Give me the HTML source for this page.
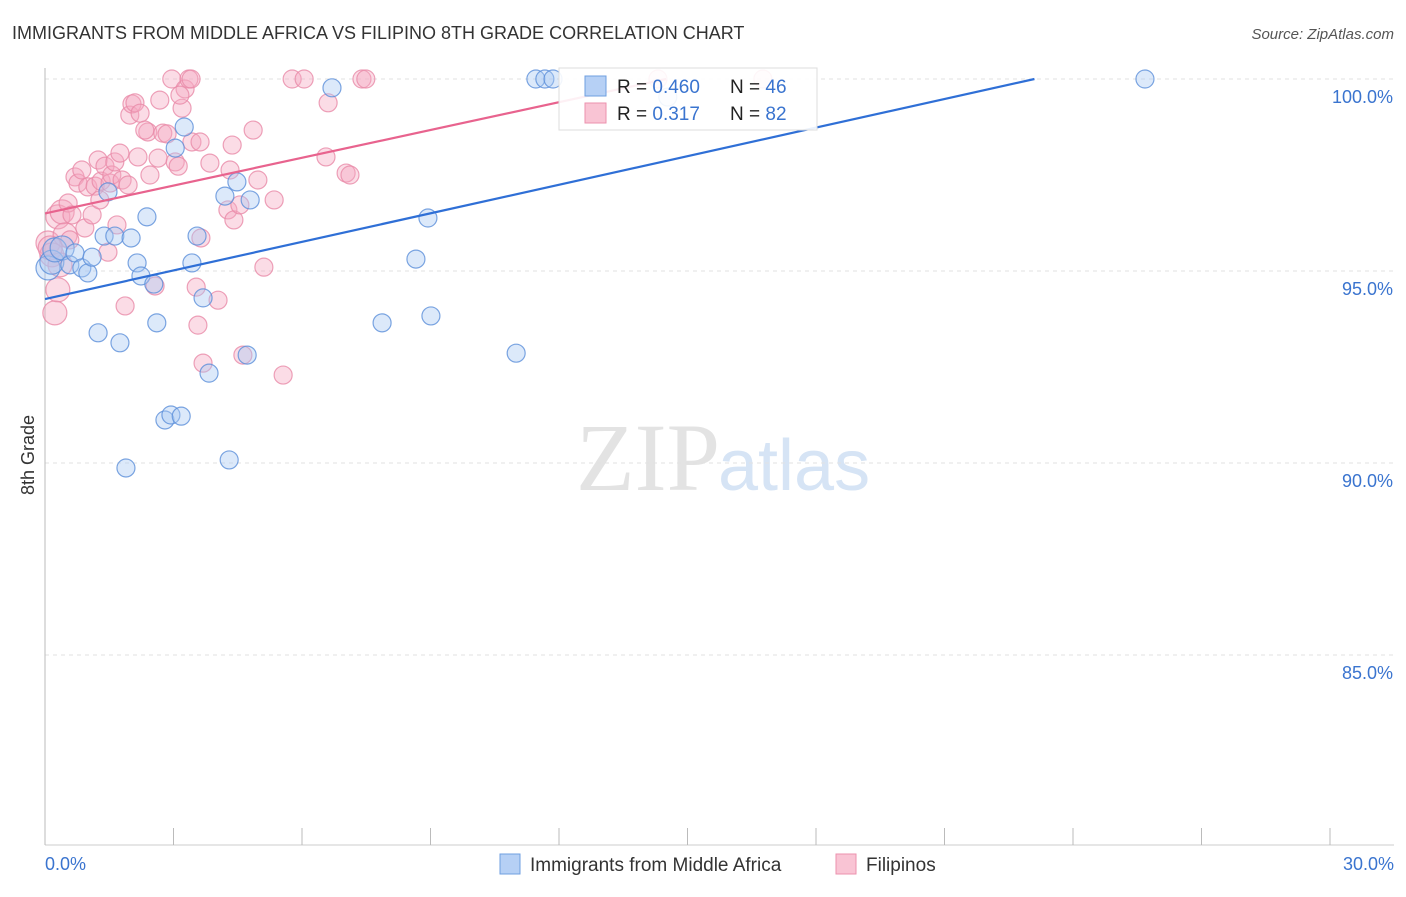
<!DOCTYPE html>
<html><head><meta charset="utf-8"><style>
body{margin:0;background:#fff;font-family:"Liberation Sans",sans-serif}
</style></head><body>
<svg width="1406" height="892" xmlns="http://www.w3.org/2000/svg" id="svg" font-family="Liberation Sans, sans-serif">
<text x="12" y="39" font-size="18" fill="#333">IMMIGRANTS FROM MIDDLE AFRICA VS FILIPINO 8TH GRADE CORRELATION CHART</text>
<text x="1394" y="39" font-size="15" fill="#555" font-style="italic" text-anchor="end">Source: ZipAtlas.com</text>
<text x="720" y="490" font-size="96" fill="#e3e3e3" font-family="Liberation Serif, serif" text-anchor="end">ZIP</text>
<text x="718" y="490" font-size="72" fill="#d6e4f5">atlas</text>
<text x="34" y="455" font-size="18" fill="#333" transform="rotate(-90 34 455)" text-anchor="middle">8th Grade</text>
<g id="grid"></g><g id="pts"></g><g id="lines"></g>
<g>
<rect x="559" y="68" width="258" height="62" fill="#fff" fill-opacity="0.9" stroke="#ddd"/>
<rect x="585" y="76" width="21" height="20" fill="#b6d0f5" stroke="#6f9fe0"/>
<rect x="585" y="103" width="21" height="20" fill="#f9c4d4" stroke="#ec92ae"/>
<text x="617" y="93" font-size="19" fill="#222">R = <tspan fill="#3a74cf">0.460</tspan></text>
<text x="730" y="93" font-size="19" fill="#222">N = <tspan fill="#3a74cf">46</tspan></text>
<text x="617" y="120" font-size="19" fill="#222">R = <tspan fill="#3a74cf"> 0.317</tspan></text>
<text x="730" y="120" font-size="19" fill="#222">N = <tspan fill="#3a74cf">82</tspan></text>
</g>
<g>
<rect x="500" y="854" width="20" height="20" fill="#b6d0f5" stroke="#6f9fe0"/>
<text x="530" y="871" font-size="19" fill="#333">Immigrants from Middle Africa</text>
<rect x="836" y="854" width="20" height="20" fill="#f9c4d4" stroke="#ec92ae"/>
<text x="866" y="871" font-size="19" fill="#333">Filipinos</text>
</g>
<text x="45" y="870" font-size="18" fill="#3a74cf">0.0%</text>
<text x="1394" y="870" font-size="18" fill="#3a74cf" text-anchor="end">30.0%</text>
</svg>
<script>
const yTicks=[100,95,90,85];
const xTicks=[0,3,6,9,12,15,18,21,24,27,30];
const bluePx=[[48,268],[52,262],[55,250],[62,248],[70,265],[75,253],[82,268],[88,273],[92,257],[98,333],[104,236],[108,192],[115,236],[120,343],[126,468],[131,238],[137,263],[141,276],[147,217],[154,284],[157,323],[165,420],[171,415],[181,416],[175,148],[184,127],[192,263],[197,236],[203,298],[209,373],[225,196],[229,460],[237,182],[247,355],[250,200],[332,88],[382,323],[416,259],[428,218],[431,316],[516,353],[536,79],[545,79],[553,79],[668,97],[1145,79]];
const pinkPx=[[48,243],[52,255],[55,313],[58,217],[62,212],[65,235],[68,203],[72,215],[75,177],[78,183],[82,170],[85,228],[88,187],[92,215],[95,186],[98,160],[101,181],[105,166],[108,252],[110,183],[112,175],[115,162],[117,225],[120,153],[122,180],[125,306],[128,185],[130,115],[132,104],[135,103],[138,157],[140,113],[148,132],[150,175],[155,286],[158,158],[163,133],[167,134],[172,79],[175,162],[178,166],[182,108],[185,89],[189,79],[191,79],[192,142],[196,287],[198,325],[200,142],[201,238],[203,363],[210,163],[218,300],[228,210],[232,145],[234,220],[243,355],[253,130],[258,180],[264,267],[274,200],[283,375],[292,79],[304,79],[326,157],[328,103],[346,173],[350,175],[362,79],[366,79],[658,79],[763,79],[50,248],[60,265],[70,240],[100,200],[145,130],[160,100],[230,170],[240,205],[58,290],[180,95]];
// convert picture estimates into data values (x %, y %)
const blueX=bluePx.map(p=>+((p[0]-45)/1285*30).toFixed(2)), blueY=bluePx.map(p=>+(100-(p[1]-79)/38.4).toFixed(2));
const pinkX=pinkPx.map(p=>+((p[0]-45)/1285*30).toFixed(2)), pinkY=pinkPx.map(p=>+(100-(p[1]-79)/38.4).toFixed(2));
const blueTrend=[[0,94.27],[23.1,100]];
const pinkTrend=[[0,96.5],[14.5,100]];
const sx=v=>45+v/30*1285, sy=v=>79+(100-v)*38.4;
const NS='http://www.w3.org/2000/svg';
function mk(t,a,p){const e=document.createElementNS(NS,t);for(const k in a)e.setAttribute(k,a[k]);p.appendChild(e);return e;}
const grid=document.getElementById('grid');
yTicks.forEach(t=>{const l=mk('line',{x1:45,x2:1394,y1:sy(t),y2:sy(t),stroke:'#e2e2e2','stroke-dasharray':'4,4'},grid);


const tx=mk('text',{x:1393,y:sy(t)+24,'font-size':18,fill:'#3a74cf','text-anchor':'end'},grid);tx.textContent=t.toFixed(1)+'%';

});
const ax=mk('line',{x1:45,x2:45,y1:68,y2:845,stroke:'#bbb'},grid);


const bx=mk('line',{x1:45,x2:1394,y1:845,y2:845,stroke:'#ccc'},grid);


xTicks.forEach(t=>{const l=mk('line',{x1:sx(t),x2:sx(t),y1:828,y2:845,stroke:'#bbb'},grid);

});
const pts=document.getElementById('pts');
function draw(X,Y,fill,stroke,name){X.forEach((x,i)=>{const r=(x<0.5)?12:9;const c=mk('circle',{cx:sx(x),cy:sy(Y[i]),r:r,fill:fill,'fill-opacity':0.4,stroke:stroke,'stroke-width':1.2,'stroke-opacity':0.8},pts);

});}
draw(pinkX,pinkY,'#f5a8c0','#e889a8','filipino-point');
draw(blueX,blueY,'#a8c8f2','#5b8fd9','middle-africa-point');
const lines=document.getElementById('lines');
const b=mk('line',{x1:sx(blueTrend[0][0]),y1:sy(blueTrend[0][1]),x2:sx(blueTrend[1][0]),y2:sy(blueTrend[1][1]),stroke:'#2f6fd6','stroke-width':2.2},lines);


const p=mk('line',{x1:sx(pinkTrend[0][0]),y1:sy(pinkTrend[0][1]),x2:sx(pinkTrend[1][0]),y2:sy(pinkTrend[1][1]),stroke:'#e8638e','stroke-width':2.2},lines);


</script>
</body></html>
